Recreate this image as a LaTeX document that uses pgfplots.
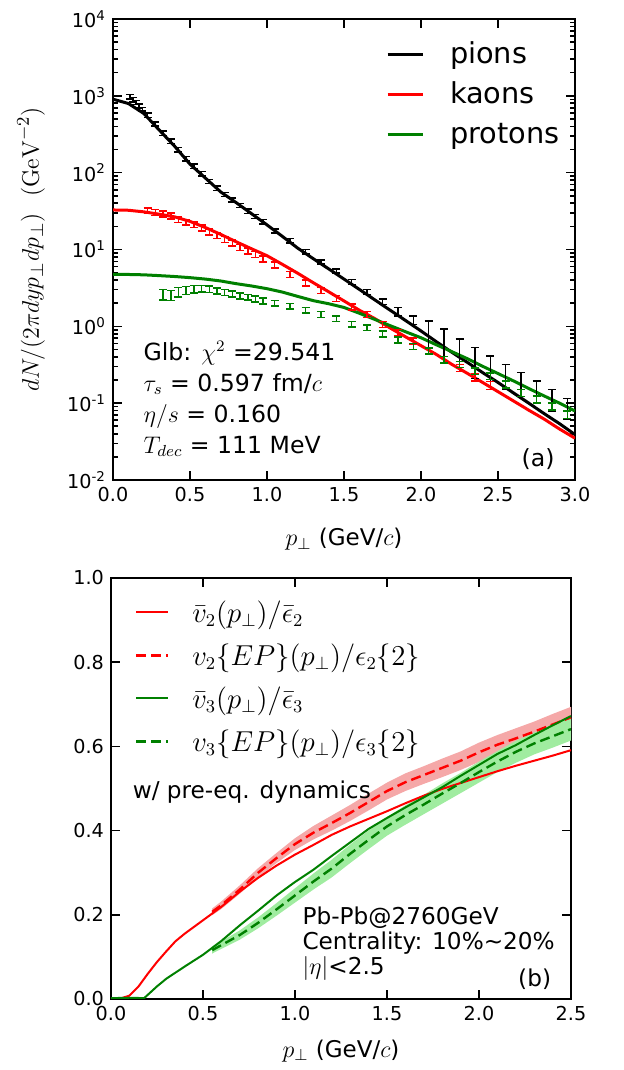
\documentclass[border=0pt]{standalone}
\usepackage[no-math]{fontspec}
\setmainfont{DejaVu Sans}
\usepackage{pgfplots}
\pgfplotsset{compat=1.18}
\usepackage{pgfplotstable}
\usepgfplotslibrary{fillbetween}

\definecolor{mplred}{RGB}{255,0,0}
\definecolor{mplgreen}{RGB}{0,128,0}
\definecolor{redband}{RGB}{245,168,168}
\definecolor{greenband}{RGB}{160,236,160}

% ---- panel (a): spectra ----
\pgfplotstableread{
p v
0.0 904
0.1 794
0.2 589
0.3 359
0.4 221
0.5 129
0.6 85
0.7 56
0.8 40.7
0.9 29.2
1.0 20.9
1.1 14.8
1.2 10.4
1.3 7.6
1.4 5.6
1.5 4.12
1.6 3.02
1.7 2.21
1.8 1.62
1.9 1.19
2.0 0.87
2.1 0.63
2.2 0.46
2.3 0.34
2.4 0.25
2.5 0.186
2.6 0.136
2.7 0.100
2.8 0.073
2.9 0.054
3.0 0.039
}\pioncurve

\pgfplotstableread{
p v
0.0 32.7
0.1 32.4
0.2 30.9
0.3 28.8
0.4 26.6
0.5 23.2
0.6 19.3
0.7 15.7
0.8 12.6
0.9 10.2
1.0 8.3
1.1 6.4
1.2 4.9
1.3 3.7
1.4 2.82
1.5 2.14
1.6 1.62
1.7 1.26
1.8 0.95
1.9 0.73
2.0 0.56
2.1 0.43
2.2 0.32
2.3 0.245
2.4 0.186
2.5 0.141
2.6 0.107
2.7 0.081
2.8 0.062
2.9 0.046
3.0 0.035
}\kaoncurve

\pgfplotstableread{
p v
0.0 4.75
0.1 4.73
0.2 4.68
0.3 4.57
0.4 4.45
0.5 4.30
0.6 4.12
0.7 3.89
0.8 3.59
0.9 3.35
1.0 3.09
1.1 2.79
1.2 2.45
1.3 2.16
1.4 1.97
1.5 1.76
1.6 1.48
1.7 1.23
1.8 1.02
1.9 0.85
2.0 0.71
2.1 0.575
2.2 0.468
2.3 0.380
2.4 0.302
2.5 0.243
2.6 0.195
2.7 0.155
2.8 0.124
2.9 0.100
3.0 0.079
}\protoncurve

\pgfplotstableread{
p v e
0.11 975 60
0.13 890 55
0.15 820 50
0.17 740 45
0.19 670 40
0.225 560 35
0.275 430 28
0.325 325 22
0.375 258 17
0.425 200 13
0.475 152 10
0.525 122 8
0.575 97 6
0.625 77 5
0.675 63 4
0.725 52 3.3
0.775 44 2.8
0.825 37.5 2.4
0.875 31.5 2.0
0.925 27 1.7
0.975 23 1.5
1.05 17.5 1.1
1.15 13.0 0.85
1.25 9.4 0.6
1.35 6.9 0.45
1.45 5.25 0.3
1.55 3.8 0.29
1.65 2.8 0.2
1.75 2.1 0.18
1.85 1.56 0.2
1.95 1.21 0.15
2.05 0.80 0.37
2.15 0.63 0.29
2.25 0.47 0.21
2.35 0.37 0.16
2.45 0.30 0.11
2.55 0.235 0.085
2.65 0.186 0.064
2.75 0.148 0.046
2.85 0.115 0.036
2.95 0.088 0.027
}\piondata

\pgfplotstableread{
p v e
0.225 32 2.8
0.275 30.5 2.7
0.325 29 2.5
0.375 27.3 2.4
0.425 24.5 2.1
0.475 22.7 2.0
0.525 21 1.8
0.575 19.2 1.7
0.625 17 1.5
0.675 15.3 1.35
0.725 13.6 1.2
0.775 12.2 1.1
0.825 10.7 0.95
0.875 9.6 0.85
0.925 8.7 0.78
0.975 7.6 0.68
1.05 6.3 0.55
1.15 4.75 0.42
1.25 3.7 0.33
1.35 2.95 0.26
1.45 2.3 0.2
1.55 1.8 0.16
1.65 1.43 0.13
1.75 1.06 0.095
1.85 0.83 0.075
1.95 0.645 0.06
2.05 0.48 0.045
2.15 0.37 0.035
2.25 0.29 0.03
2.35 0.22 0.025
2.45 0.17 0.02
}\kaondata

\pgfplotstableread{
p v e
0.325 2.6 0.4
0.375 2.55 0.38
0.425 2.8 0.38
0.475 2.95 0.35
0.525 3.05 0.33
0.575 3.1 0.3
0.625 3.05 0.28
0.675 2.9 0.26
0.725 2.78 0.25
0.775 2.65 0.24
0.825 2.5 0.22
0.875 2.4 0.21
0.925 2.28 0.2
0.975 2.15 0.19
1.05 2.0 0.17
1.15 1.82 0.15
1.25 1.62 0.13
1.35 1.43 0.12
1.45 1.26 0.1
1.55 1.07 0.09
1.65 0.96 0.08
1.75 0.8 0.07
1.85 0.67 0.06
1.95 0.55 0.05
2.05 0.48 0.045
2.15 0.37 0.035
2.25 0.32 0.03
2.35 0.262 0.025
2.45 0.225 0.022
2.55 0.176 0.018
2.65 0.137 0.014
2.75 0.112 0.012
2.85 0.091 0.01
2.95 0.071 0.008
}\protondata

% ---- panel (b): flow ratios ----
\pgfplotstableread{
p v
0.0 0.0
0.05 0.001
0.1 0.008
0.15 0.030
0.2 0.060
0.25 0.088
0.3 0.113
0.35 0.137
0.4 0.155
0.5 0.187
0.6 0.219
0.7 0.255
0.8 0.288
0.9 0.317
1.0 0.343
1.1 0.366
1.2 0.390
1.3 0.410
1.4 0.428
1.5 0.446
1.6 0.465
1.7 0.483
1.8 0.499
1.9 0.513
2.0 0.527
2.1 0.541
2.2 0.554
2.3 0.566
2.4 0.578
2.5 0.591
}\vtwobar

\pgfplotstableread{
p v e
0.55 0.207 0.008
0.6 0.223 0.009
0.7 0.260 0.010
0.8 0.300 0.011
0.9 0.335 0.012
1.0 0.368 0.014
1.1 0.395 0.016
1.2 0.418 0.018
1.3 0.442 0.019
1.4 0.468 0.020
1.5 0.494 0.020
1.6 0.515 0.021
1.7 0.532 0.021
1.8 0.549 0.022
1.9 0.566 0.022
2.0 0.586 0.023
2.1 0.604 0.023
2.2 0.619 0.024
2.3 0.635 0.024
2.4 0.652 0.025
2.5 0.669 0.025
}\vtwoep

\pgfplotstableread{
p v
0.0 0.002
0.1 0.003
0.18 0.002
0.25 0.030
0.3 0.048
0.4 0.077
0.5 0.105
0.6 0.138
0.7 0.175
0.8 0.210
0.9 0.246
1.0 0.278
1.1 0.307
1.2 0.340
1.3 0.372
1.4 0.404
1.5 0.430
1.6 0.455
1.7 0.479
1.8 0.503
1.9 0.530
2.0 0.556
2.1 0.582
2.2 0.603
2.3 0.627
2.4 0.650
2.5 0.672
}\vthreebar

\pgfplotstableread{
p v e
0.55 0.116 0.008
0.6 0.128 0.009
0.7 0.152 0.011
0.8 0.181 0.013
0.9 0.213 0.015
1.0 0.246 0.017
1.1 0.279 0.019
1.2 0.310 0.021
1.3 0.345 0.022
1.4 0.378 0.022
1.5 0.410 0.022
1.6 0.437 0.023
1.7 0.462 0.023
1.8 0.488 0.024
1.9 0.513 0.024
2.0 0.539 0.025
2.1 0.564 0.025
2.2 0.587 0.026
2.3 0.607 0.026
2.4 0.624 0.027
2.5 0.641 0.027
}\vthreeep

\pgfplotsset{
  mpl/.style={
    scale only axis,
    tick align=inside,
    major tick length=4.5pt,
    minor tick length=2.3pt,
    every tick/.style={black, line width=0.8pt},
    axis line style={line width=0.9pt},
    tick label style={font=\fontsize{9.6}{11.5}\selectfont},
    label style={font=\fontsize{11.5}{14}\selectfont},
    legend cell align=left,
  },
  % error bars only, no marker at the data point
  ebar/.style={only marks, mark=text, text mark={}, forget plot,
    error bars/.cd, y dir=both, y explicit,
    error bar style={draw=#1, line width=0.75pt},
    error mark options={draw=#1, rotate=90, line width=0.75pt, mark size=2pt}},
}

\begin{document}
\begin{tikzpicture}

\begin{axis}[mpl,
  at={(56.5pt,295pt)}, anchor=south west,
  width=231pt, height=230.5pt,
  xmin=0, xmax=3, ymin=1e-2, ymax=1e4, ymode=log,
  xtick={0,0.5,1,1.5,2,2.5,3},
  xticklabels={0.0,0.5,1.0,1.5,2.0,2.5,3.0},
  ytick={1e-2,1e-1,1,1e1,1e2,1e3,1e4},
  yticklabels={10\textsuperscript{-2},10\textsuperscript{-1},10\textsuperscript{0},10\textsuperscript{1},10\textsuperscript{2},10\textsuperscript{3},10\textsuperscript{4}},
  minor ytick={2e-2,3e-2,4e-2,5e-2,6e-2,7e-2,8e-2,9e-2,
    0.2,0.3,0.4,0.5,0.6,0.7,0.8,0.9,2,3,4,5,6,7,8,9,
    20,30,40,50,60,70,80,90,200,300,400,500,600,700,800,900,
    2000,3000,4000,5000,6000,7000,8000,9000},
  xlabel={$p_\perp$ (GeV/$c$)},
  ylabel={$dN/(2\pi dy p_\perp dp_\perp)\ \ (\mathrm{GeV}^{-2})$},
  xlabel style={at={(rel axis cs:0.5,-0.128)}, anchor=center},
  ylabel style={at={(rel axis cs:-0.1775,0.5)}, anchor=center,
    font=\fontsize{13}{15}\selectfont},
  legend style={draw=none, fill=none, at={(rel axis cs:0.591,0.952)},
    anchor=north west, inner sep=0pt, outer sep=0pt,
    row sep=6pt, column sep=13pt,
    font=\fontsize{14.4}{17}\selectfont,
    nodes={inner sep=0pt, text height=11pt, text depth=3pt, anchor=base west}},
  legend image code/.code={\draw[#1] (0pt,4.2pt) -- (17.5pt,4.2pt);},
]
\addplot[black, line width=1.5pt] table[x=p, y=v] {\pioncurve};
\addlegendentry{pions}
\addplot[mplred, line width=1.5pt] table[x=p, y=v] {\kaoncurve};
\addlegendentry{kaons}
\addplot[mplgreen, line width=1.5pt] table[x=p, y=v] {\protoncurve};
\addlegendentry{protons}
\addplot[ebar=black] table[x=p, y=v, y error=e] {\piondata};
\addplot[ebar=mplred] table[x=p, y=v, y error=e] {\kaondata};
\addplot[ebar=mplgreen] table[x=p, y=v, y error=e] {\protondata};

\begin{scope}[font=\fontsize{11.8}{14}\selectfont]
\node[anchor=base west] at (rel axis cs:0.051,0.259) {Glb: $\chi^2$ =29.541};
\node[anchor=base west] at (rel axis cs:0.051,0.193) {$\tau_s$ = 0.597 fm/$c$};
\node[anchor=base west] at (rel axis cs:0.051,0.124) {$\eta/s$ = 0.160};
\node[anchor=base west] at (rel axis cs:0.051,0.058) {$T_{dec}$ = 111 MeV};
\node[anchor=base east] at (rel axis cs:0.971,0.029) {(a)};
\end{scope}
\end{axis}

\begin{axis}[mpl,
  at={(55.5pt,35.5pt)}, anchor=south west,
  width=230pt, height=210.5pt,
  xmin=0, xmax=2.5, ymin=0, ymax=1,
  xtick={0,0.5,1,1.5,2,2.5},
  xticklabels={0.0,0.5,1.0,1.5,2.0,2.5},
  ytick={0,0.2,0.4,0.6,0.8,1},
  yticklabels={0.0,0.2,0.4,0.6,0.8,1.0},
  xlabel={$p_\perp$ (GeV/$c$)},
  xlabel style={at={(rel axis cs:0.5,-0.1235)}, anchor=center},
  legend style={draw=none, fill=none, at={(rel axis cs:0.052,0.947)},
    anchor=north west, inner sep=0pt, outer sep=0pt,
    row sep=6pt, column sep=11.5pt,
    font=\fontsize{13.5}{16}\selectfont,
    nodes={inner sep=0pt, text height=11pt, text depth=4.5pt, anchor=base west}},
  legend image code/.code={\draw[#1] (0pt,5pt) -- (16pt,5pt);},
]
\addplot[name path=rup, draw=none, forget plot] table[x=p, y expr=\thisrow{v}+\thisrow{e}] {\vtwoep};
\addplot[name path=rlo, draw=none, forget plot] table[x=p, y expr=\thisrow{v}-\thisrow{e}] {\vtwoep};
\addplot[redband, forget plot] fill between[of=rup and rlo];
\addplot[name path=gup, draw=none, forget plot] table[x=p, y expr=\thisrow{v}+\thisrow{e}] {\vthreeep};
\addplot[name path=glo, draw=none, forget plot] table[x=p, y expr=\thisrow{v}-\thisrow{e}] {\vthreeep};
\addplot[greenband, forget plot] fill between[of=gup and glo];

\addplot[mplred, line width=1pt] table[x=p, y=v] {\vtwobar};
\addlegendentry{$\bar{v}_2(p_\perp)/\bar{\epsilon}_2$}
\addplot[mplred, line width=1.2pt, dash pattern=on 5pt off 2.5pt] table[x=p, y=v] {\vtwoep};
\addlegendentry{$v_2\{EP\}(p_\perp)/\epsilon_2\{2\}$}
\addplot[mplgreen, line width=1pt] table[x=p, y=v] {\vthreebar};
\addlegendentry{$\bar{v}_3(p_\perp)/\bar{\epsilon}_3$}
\addplot[mplgreen, line width=1.2pt, dash pattern=on 5pt off 2.5pt] table[x=p, y=v] {\vthreeep};
\addlegendentry{$v_3\{EP\}(p_\perp)/\epsilon_3\{2\}$}

\begin{scope}[font=\fontsize{11.6}{14}\selectfont]
\node[anchor=base west] at (rel axis cs:0.032,0.477) {w/ pre-eq. dynamics};
\node[anchor=base west] at (rel axis cs:0.401,0.178) {Pb-Pb@2760GeV};
\node[anchor=base west] at (rel axis cs:0.401,0.117) {Centrality: 10\%\textasciitilde20\%};
\node[anchor=base west] at (rel axis cs:0.401,0.058) {$|\eta|$<2.5};
\node[anchor=base east] at (rel axis cs:0.972,0.029) {(b)};
\end{scope}
\end{axis}

\pgfresetboundingbox
\path[use as bounding box] (0,0) rectangle (311.5pt,535pt);
\end{tikzpicture}
\end{document}
